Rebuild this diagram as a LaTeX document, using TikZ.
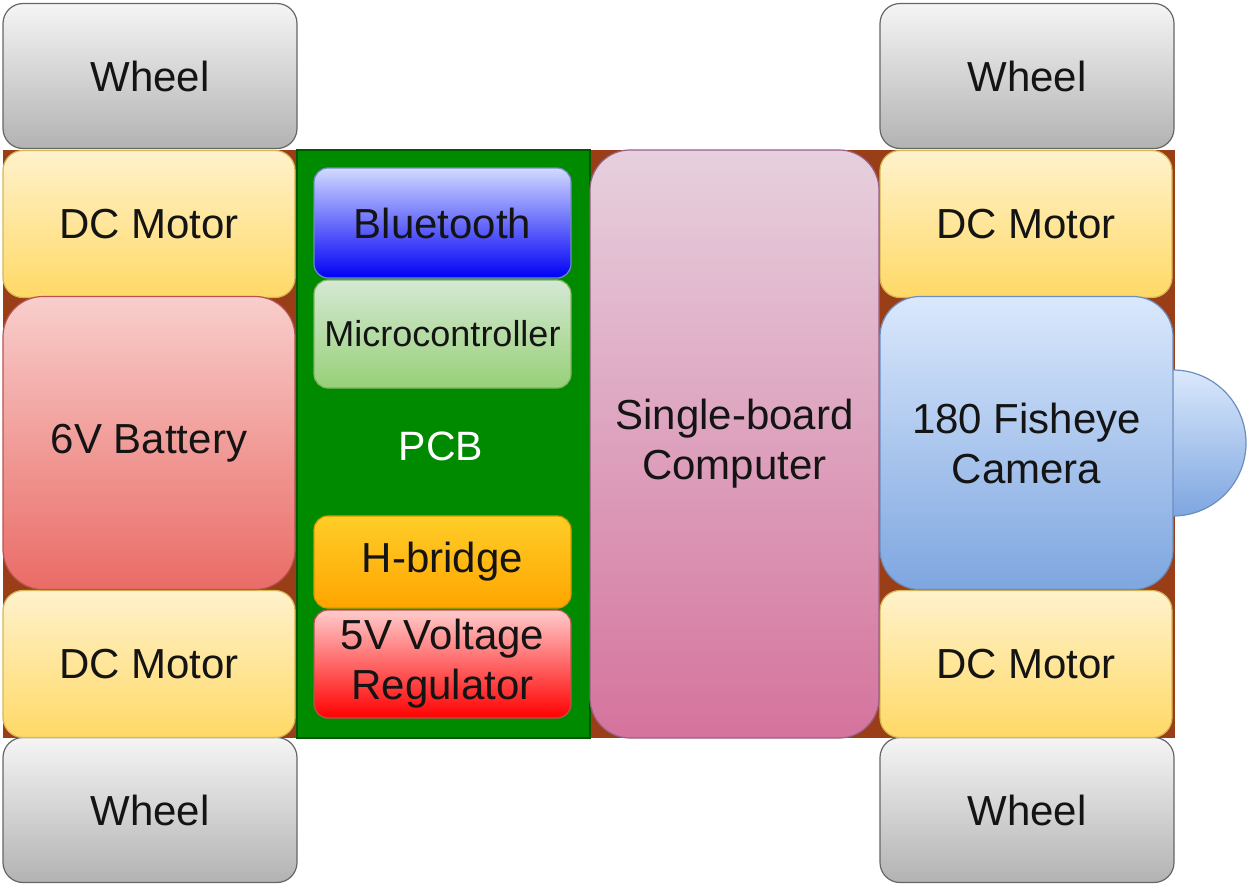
\documentclass[tikz,border=0pt]{standalone}
\usepackage{fontspec}
\setmainfont{Liberation Sans}
\definecolor{chassis}{RGB}{153,62,22}
\definecolor{pcbgreen}{RGB}{0,138,0}
\definecolor{pcbdark}{RGB}{0,87,0}
\tikzset{
  x=1pt, y=-1pt,
  part/.style={draw, line width=1.2pt, inner sep=0pt, align=center,
    font=\fontsize{42}{50}\selectfont, text=black!92},
  wheelbox/.style={part, rounded corners=20pt, draw=black!60, top color=black!4, bottom color=black!30,
    minimum width=294pt, minimum height=145pt},
  motorbox/.style={part, rounded corners=20pt, draw={rgb,255:red,214;green,182;blue,86},
    top color={rgb,255:red,255;green,242;blue,204}, bottom color={rgb,255:red,255;green,217;blue,102},
    minimum width=292pt, minimum height=147pt},
  pcbpart/.style={part, rounded corners=14pt, minimum width=257pt},
}
\begin{document}
\begin{tikzpicture}
\useasboundingbox (0,0) rectangle (1247,884);
% chassis
\fill[chassis] (3,150) rectangle (1175,738);
% camera lens (behind camera body)
\node[part, circle, minimum size=146pt, draw={rgb,255:red,108;green,142;blue,191},
  top color={rgb,255:red,218;green,232;blue,252}, bottom color={rgb,255:red,126;green,166;blue,224}]
  (lens) at (1173,443) {};
% wheels
\node[wheelbox] (w1) at (150,76) {Wheel};
\node[wheelbox] (w2) at (1027,76) {Wheel};
\node[wheelbox] (w3) at (150,810) {Wheel};
\node[wheelbox] (w4) at (1027,810) {Wheel};
% motors
\node[motorbox] (m1) at (149,224) {DC Motor};
\node[motorbox] (m2) at (149,664) {DC Motor};
\node[motorbox] (m3) at (1026,224) {DC Motor};
\node[motorbox] (m4) at (1026,664) {DC Motor};
% battery
\node[part, rounded corners=40pt, minimum width=292pt, minimum height=293pt,
  draw={rgb,255:red,184;green,84;blue,80},
  top color={rgb,255:red,248;green,206;blue,204}, bottom color={rgb,255:red,234;green,107;blue,102}]
  (bat) at (149,443) {\raisebox{-5pt}{6V Battery}};
% PCB
\node[draw=pcbdark, fill=pcbgreen, line width=1.2pt, minimum width=293pt, minimum height=588pt,
  inner sep=0pt] (pcb) at (443.5,444) {};
\node[font=\fontsize{41}{48}\selectfont, text=white] (pcblabel) at (441,446) {PCB};
\node[pcbpart, minimum height=110pt, draw={rgb,255:red,108;green,142;blue,191},
  top color={rgb,255:red,210;green,218;blue,255}, bottom color={rgb,255:red,0;green,0;blue,245}]
  (bt) at (442.5,223) {Bluetooth};
\node[pcbpart, minimum height=108pt, draw={rgb,255:red,130;green,179;blue,102},
  top color={rgb,255:red,213;green,232;blue,212}, bottom color={rgb,255:red,151;green,208;blue,119},
  font=\fontsize{36}{42}\selectfont]
  (mcu) at (442.5,334) {\raisebox{-2pt}{Microcontroller}};
\node[pcbpart, minimum height=92pt, draw={rgb,255:red,215;green,155;blue,0},
  top color={rgb,255:red,255;green,205;blue,40}, bottom color={rgb,255:red,255;green,165;blue,0}]
  (hb) at (442.5,562) {H-bridge};
\node[pcbpart, minimum height=108pt, draw={rgb,255:red,184;green,84;blue,80},
  top color={rgb,255:red,255;green,204;blue,204}, bottom color={rgb,255:red,255;green,0;blue,0}]
  (reg) at (442.5,664) {5V Voltage\\Regulator};
% single-board computer
\node[part, rounded corners=40pt, minimum width=289pt, minimum height=588pt,
  draw={rgb,255:red,153;green,97;blue,133},
  top color={rgb,255:red,230;green,208;blue,222}, bottom color={rgb,255:red,213;green,115;blue,157}]
  (sbc) at (734.5,444) {Single-board\\Computer};
% camera body
\node[part, rounded corners=40pt, minimum width=293pt, minimum height=293pt,
  draw={rgb,255:red,108;green,142;blue,191},
  top color={rgb,255:red,218;green,232;blue,252}, bottom color={rgb,255:red,126;green,166;blue,224}]
  (cam) at (1026.5,443) {180 Fisheye\\Camera};
\end{tikzpicture}
\end{document}
